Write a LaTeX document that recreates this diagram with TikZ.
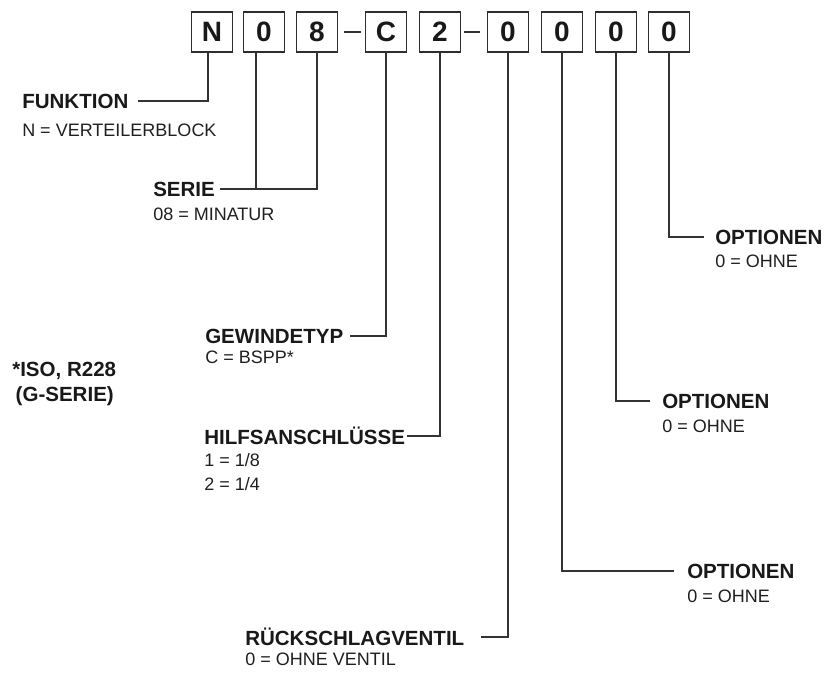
\documentclass[tikz,border=0pt]{standalone}
\usepackage{fontspec}
\setmainfont{Liberation Sans}
\usetikzlibrary{positioning}
\begin{document}
\begin{tikzpicture}[x=.75pt,y=-.75pt]
\tikzset{digit/.style={draw=black!82,line width=1.4pt,minimum width=30.75pt,minimum height=30pt,inner sep=0pt,
  font=\bfseries\fontsize{21}{21}\selectfont,text=black!90},
title/.style={anchor=west,inner sep=0pt,font=\bfseries\fontsize{15.4}{18.5}\selectfont,text=black!90},
desc/.style={anchor=west,inner sep=0pt,align=left,font=\fontsize{13.5}{18}\selectfont,text=black!88},
lead/.style={draw=black!80,line width=1.5pt}}
\useasboundingbox (0,0) rectangle (825,678);
% code boxes
\foreach \c/\x [count=\i] in {N/212,0/264,8/317,C/386,2/440,0/508,0/562,0/616,0/669}
  {\node[digit] (b\i) at (\x,32) {\c};}
\draw[lead,shorten <=4pt,shorten >=3pt] (b3.east)--(b4.west);
\draw[lead,shorten <=2pt,shorten >=5pt] (b5.east)--(b6.west);
% labels
\node[title] (funktion) at (22,101) {FUNKTION};
\node[desc] (funktiondesc) at (22,130) {N = VERTEILERBLOCK};
\node[title] (serie) at (153,189) {SERIE};
\node[desc] (seriedesc) at (153,214) {08 = MINATUR};
\node[title] (gewinde) at (205,336) {GEWINDETYP};
\node[desc] (gewindedesc) at (205,357) {C = BSPP*};
\node[title,align=left] (iso) at (12,384) {*ISO, R228\\\,(G-SERIE)};
\node[title] (hilfs) at (204,436) {HILFSANSCHLÜSSE};
\node[desc] (hilfsdesc) at (204,472) {1 = 1/8\\2 = 1/4};
\node[title] (rueck) at (245,637) {RÜCKSCHLAGVENTIL};
\node[desc] (rueckdesc) at (245,659) {0 = OHNE VENTIL};
\node[title] (opta) at (687,571) {OPTIONEN};
\node[desc] (optadesc) at (687,596) {0 = OHNE};
\node[title] (optb) at (662,401) {OPTIONEN};
\node[desc] (optbdesc) at (662,426) {0 = OHNE};
\node[title] (optc) at (715,237) {OPTIONEN};
\node[desc] (optcdesc) at (715,261) {0 = OHNE};
% leads
\draw[lead] ([xshift=-3pt]b1.south) |- ([xshift=7pt]funktion.east);
\draw[lead] ([xshift=-6pt]b2.south) -- ([xshift=-6pt]b2.south |- serie.east);
\draw[lead] (b3.south) |- ([xshift=4pt]serie.east);
\draw[lead] (b4.south) |- ([xshift=5pt]gewinde.east);
\draw[lead] (b5.south) |- ([xshift=1.5pt]hilfs.east);
\draw[lead] (b6.south) |- ([xshift=12pt]rueck.east);
\draw[lead] (b7.south) |- ([xshift=-10pt]opta.west);
\draw[lead] (b8.south) |- ([xshift=-9pt]optb.west);
\draw[lead] (b9.south) |- ([xshift=-8pt]optc.west);
\end{tikzpicture}
\end{document}
